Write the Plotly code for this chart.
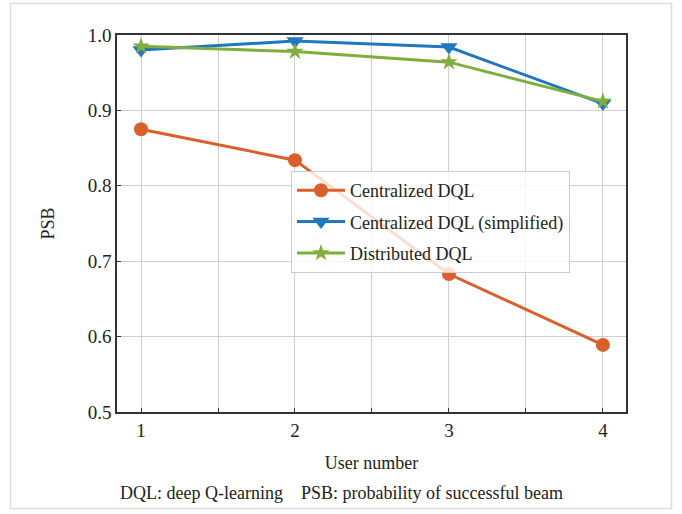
import plotly.graph_objects as go

users = [1, 2, 3, 4]
centralized = [0.875, 0.834, 0.683, 0.589]
centralized_simplified = [0.980, 0.992, 0.984, 0.909]
distributed = [0.985, 0.978, 0.964, 0.912]
series_names = ["Centralized DQL", "Centralized DQL (simplified)", "Distributed DQL"]
x_title = "User number"
y_title = "PSB"
caption = "DQL: deep Q-learning    PSB: probability of successful beam"
y_ticks = [0.5, 0.6, 0.7, 0.8, 0.9, 1.0]
y_ticklabels = ["0.5", "0.6", "0.7", "0.8", "0.9", "1.0"]

FONT = "Liberation Serif"
ORANGE = "#d9602a"
BLUE = "#1f78bd"
GREEN = "#7fae3f"
TXT = "#222222"

fig = go.Figure()
fig.add_trace(go.Scatter(x=users, y=centralized, name=series_names[0], mode="lines+markers",
                         legendgroup="a",
                         line=dict(color=ORANGE, width=3),
                         marker=dict(symbol="circle", size=14, color=ORANGE)))
fig.add_trace(go.Scatter(x=users, y=centralized_simplified, name=series_names[1], mode="lines+markers",
                         legendgroup="b",
                         line=dict(color=BLUE, width=3),
                         marker=dict(symbol="triangle-down", size=15, color=BLUE),
                         cliponaxis=False))
fig.add_trace(go.Scatter(x=users, y=distributed, name=series_names[2], mode="lines+markers",
                         legendgroup="c",
                         line=dict(color=GREEN, width=3),
                         marker=dict(symbol="star", size=13, color=GREEN)))

W, H = 682, 514
ml, mr, mt, mb = 117, 56, 35, 102
pw, ph = W - ml - mr, H - mt - mb

def px2x(px):
    return (px - ml) / pw

def py2y(py):
    return (H - mb - py) / ph

fig.update_layout(
    width=W, height=H,
    margin=dict(l=ml, r=mr, t=mt, b=mb),
    paper_bgcolor="white", plot_bgcolor="white",
    font=dict(family=FONT, size=18, color=TXT),
    showlegend=True,
    legend=dict(x=px2x(291), y=py2y(171), xanchor="left", yanchor="top",
                bgcolor="rgba(255,255,255,0.8)", bordercolor="#cccccc", borderwidth=1,
                font=dict(family=FONT, size=18, color=TXT),
                itemwidth=48, tracegroupgap=5, traceorder="grouped"),
    xaxis=dict(range=[0.844, 4.15], tickvals=users, ticktext=[str(u) for u in users],
               showgrid=True, gridcolor="#cfcfcf", gridwidth=1.2,
               minor=dict(dtick=0.5, tick0=1, showgrid=True, gridcolor="#cfcfcf", gridwidth=1.2,
                          ticks="inside", ticklen=4, tickcolor="#333"),
               ticks="inside", ticklen=4, tickcolor="#333",
               showline=True, linecolor="#333", linewidth=1.5, mirror=True,
               zeroline=False,
               title=dict(text=x_title, font=dict(family=FONT, size=18, color=TXT), standoff=17),
               tickfont=dict(family=FONT, size=19, color=TXT)),
    yaxis=dict(range=[0.5, 1.0], tickvals=y_ticks, ticktext=y_ticklabels,
               showgrid=True, gridcolor="#cfcfcf", gridwidth=1.2,
               ticks="inside", ticklen=4, tickcolor="#333",
               showline=True, linecolor="#333", linewidth=1.5, mirror=True,
               zeroline=False,
               title=dict(text=y_title, font=dict(family=FONT, size=18, color=TXT), standoff=28),
               tickfont=dict(family=FONT, size=19, color=TXT)),
)

fig.add_annotation(text=caption, xref="paper", yref="paper",
                   x=px2x(341), y=py2y(493), xanchor="center", yanchor="middle",
                   showarrow=False, font=dict(family=FONT, size=18, color=TXT))

fig.add_shape(type="rect", xref="paper", yref="paper",
              x0=px2x(10.5), x1=px2x(671.5), y0=py2y(508.5), y1=py2y(3.5),
              line=dict(color="#dddddd", width=1.5), fillcolor="rgba(0,0,0,0)", layer="below")

fig.write_html("out.html")
